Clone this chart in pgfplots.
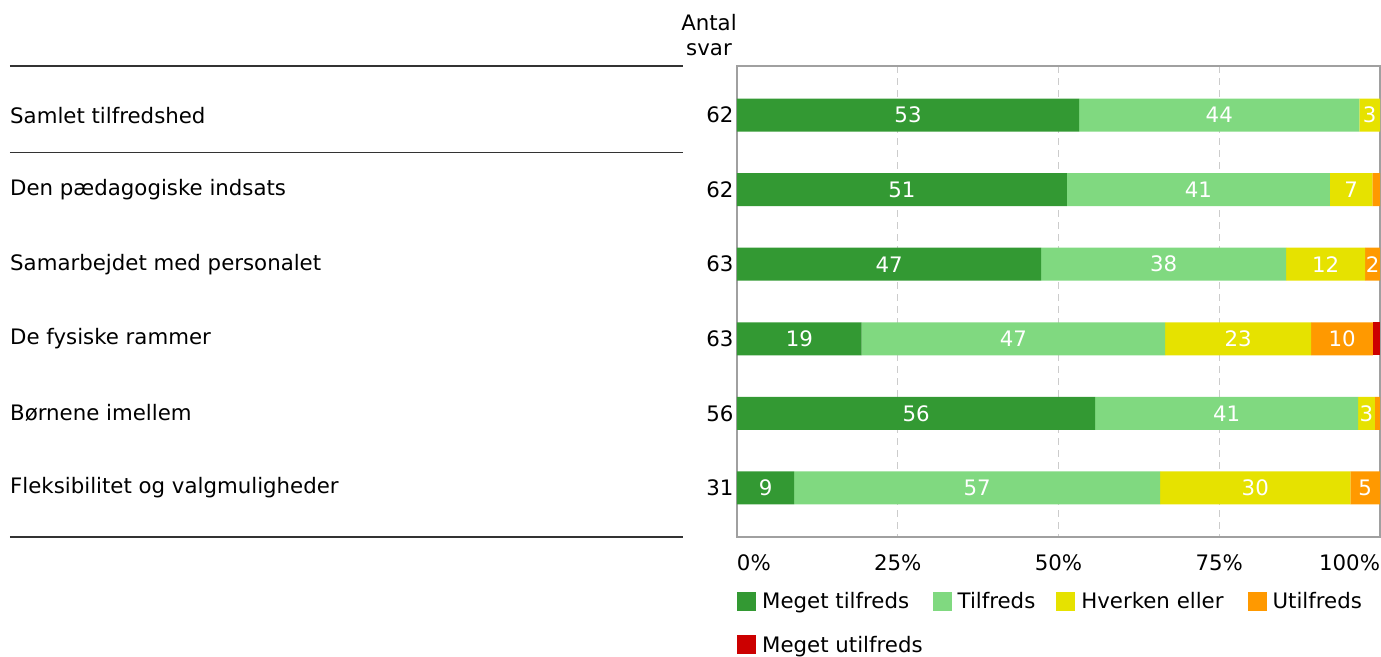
\documentclass[border=0pt]{standalone}
\usepackage{fontspec}
\setmainfont{DejaVu Sans}
\usepackage{pgfplots}
\usepackage{pgfplotstable}
\pgfplotsset{compat=1.18}

\definecolor{c1}{HTML}{339933}
\definecolor{c2}{HTML}{80D980}
\definecolor{c3}{HTML}{E6E200}
\definecolor{c4}{HTML}{FF9900}
\definecolor{c5}{HTML}{CC0000}
\definecolor{gridc}{HTML}{CCCCCC}
\definecolor{framec}{HTML}{A0A0A0}

% share of answers (%), one row per question
\pgfplotstableread{
y a    b    c    d   e
0 53.2 43.6 3.2  0   0
1 51.3 40.9 6.6  1.2 0
2 47.3 38.1 12.3 2.3 0
3 19.4 47.2 22.7 9.6 1.1
4 55.7 40.9 2.6  0.8 0
5 8.9  56.9 29.6 4.6 0
}\svar

\newcommand\barlabel{%
  \pgfmathfloatparsenumber{\pgfplotspointmeta}%
  \pgfmathfloattofixed{\pgfmathresult}\let\barv\pgfmathresult
  \ifdim\barv pt<2pt\else\pgfmathprintnumber[fixed,precision=0,assume math mode=true]{\barv}\fi}

\begin{document}
\begin{tikzpicture}[font=\fontsize{21.3}{25}\selectfont]
\path[use as bounding box] (0,0) rectangle (1381pt,656pt);
\begin{axis}[
    at={(737pt,119pt)}, anchor=south west,
    scale only axis, width=643pt, height=471pt,
    xbar stacked, bar width=33pt,
    xmin=0, xmax=100,
    ymin=-0.66, ymax=5.66, y dir=reverse,
    clip=false,
    axis line style={framec, line width=1.2pt},
    major tick length=0pt,
    xtick={0,25,50,75,100},
    xticklabels={\makebox[0pt][l]{0\%},25\%,50\%,75\%,\makebox[0pt][r]{100\%}},
    xticklabel style={yshift=-14pt},
    xmajorgrids,
    major grid style={gridc, line width=1.2pt, dash pattern=on 7pt off 5pt},
    ytick={0,...,5},
    yticklabels={62,62,63,63,56,31},
    point meta=explicit,
    nodes near coords={\barlabel},
    every node near coord/.append style={white, font=\fontsize{21.3}{25}\selectfont},
    legend style={at={(0,-0.113)}, anchor=north west, draw=none, inner sep=0pt,
      legend columns=4, row sep=22pt, font=\fontsize{21.3}{25}\selectfont,
      /tikz/every odd column/.append style={column sep=4pt},
      /tikz/every even column/.append style={column sep=8pt}},
    legend cell align=left,
    legend image code/.code={\fill[#1,draw=none] (0pt,-9.5pt) rectangle (19pt,9.5pt);},
  ]
  \addplot[fill=c1, draw=none] table[x=a, y=y, meta=a]{\svar};
  \addplot[fill=c2, draw=none] table[x=b, y=y, meta=b]{\svar};
  \addplot[fill=c3, draw=none] table[x=c, y=y, meta=c]{\svar};
  \addplot[fill=c4, draw=none] table[x=d, y=y, meta=d]{\svar};
  \addplot[fill=c5, draw=none] table[x=e, y=y, meta=e]{\svar};
  \legend{Meget tilfreds, Tilfreds\rule{11pt}{0pt}, Hverken eller\rule{14pt}{0pt}, Utilfreds, Meget utilfreds}

  \node[anchor=west, inner xsep=0pt] at ([xshift=-727pt]axis cs:0,0) {Samlet tilfredshed};
  \node[anchor=west, inner xsep=0pt] at ([xshift=-727pt]axis cs:0,1) {Den pædagogiske indsats};
  \node[anchor=west, inner xsep=0pt] at ([xshift=-727pt]axis cs:0,2) {Samarbejdet med personalet};
  \node[anchor=west, inner xsep=0pt] at ([xshift=-727pt]axis cs:0,3) {De fysiske rammer};
  \node[anchor=west, inner xsep=0pt] at ([xshift=-727pt]axis cs:0,4) {Børnene imellem};
  \node[anchor=west, inner xsep=0pt] at ([xshift=-727pt]axis cs:0,5) {Fleksibilitet og valgmuligheder};

  \draw[black!80, line width=1.4pt] ([xshift=-727pt]axis cs:0,-0.66) -- ([xshift=-54pt]axis cs:0,-0.66);
  \draw[black!80, line width=1.4pt] ([xshift=-727pt]axis cs:0,0.5) -- ([xshift=-54pt]axis cs:0,0.5);
  \draw[black!80, line width=1.4pt] ([xshift=-727pt]axis cs:0,5.66) -- ([xshift=-54pt]axis cs:0,5.66);

  \node[anchor=south, align=center, inner sep=0pt] at ([xshift=-28pt, yshift=10pt]axis cs:0,-0.66) {Antal\\svar};
\end{axis}
\end{tikzpicture}
\end{document}
